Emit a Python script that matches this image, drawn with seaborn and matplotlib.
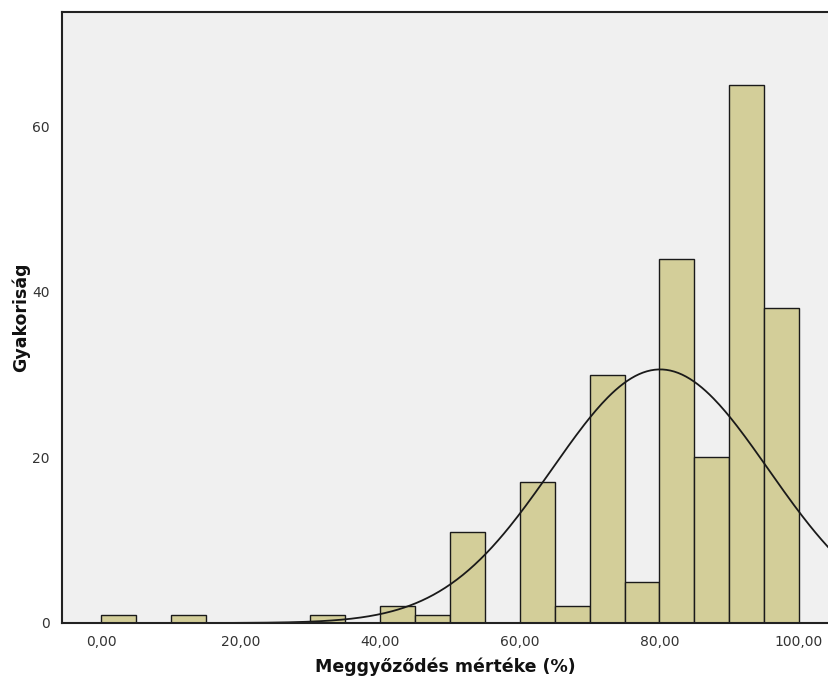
import numpy as np
import pandas as pd
import matplotlib
matplotlib.use("Agg")
import matplotlib.pyplot as plt
import seaborn as sns

# Histogram bins (left edges, width 5) and their frequencies
bin_left = [0, 10, 30, 40, 45, 50, 60, 65, 70, 75, 80, 85, 90, 95]
counts = [1, 1, 1, 2, 1, 11, 17, 2, 30, 5, 44, 20, 65, 38]
bin_width = 5

# Normal curve parameters
mean_val = 80.1
sd_val = 15.5

xticks = [0, 20, 40, 60, 80, 100]
xtick_labels = ["0,00", "20,00", "40,00", "60,00", "80,00", "100,00"]
yticks = [0, 20, 40, 60]

df = pd.DataFrame({"mid": np.array(bin_left) + bin_width / 2, "n": counts})

sns.set_style("white")
plt.rcParams["font.family"] = ["DejaVu Sans"]

fig = plt.figure(figsize=(8.29, 6.82), dpi=100)
ax = fig.add_axes([62 / 829, 59 / 682, 1 - 62 / 829, (623 - 12) / 682])
ax.set_facecolor("#f0f0f0")

sns.histplot(data=df, x="mid", weights="n", binwidth=bin_width, binrange=(0, 100), ax=ax,
             color="#d3ce99", edgecolor="#1a1a1a", linewidth=1.0, alpha=1)

# Normal curve scaled to counts
total = sum(counts)
xs = np.linspace(-6, 106, 400)
ys = total * bin_width / (sd_val * np.sqrt(2 * np.pi)) * np.exp(-0.5 * ((xs - mean_val) / sd_val) ** 2)
sns.lineplot(x=xs, y=ys, ax=ax, color="#1a1a1a", linewidth=1.3)

ax.set_xlim(-5.6, 104.3)
ax.set_ylim(0, 73.8)
ax.set_xticks(xticks)
ax.set_xticklabels(xtick_labels)
ax.set_yticks(yticks)
ax.tick_params(axis="both", direction="out", length=5, width=1.5, color="#222222",
               labelsize=10, labelcolor="#333333", pad=4)

for side in ["left", "bottom", "top"]:
    ax.spines[side].set_visible(True)
    ax.spines[side].set_color("#222222")
    ax.spines[side].set_linewidth(1.5)
ax.spines["right"].set_visible(False)

ax.set_xlabel("Meggyőződés mértéke (%)", fontsize=12.5, fontweight="bold", color="#111111", labelpad=6)
ax.set_ylabel("Gyakoriság", fontsize=12.5, fontweight="bold", color="#111111", labelpad=1)

fig.savefig("out.png", dpi=100)
